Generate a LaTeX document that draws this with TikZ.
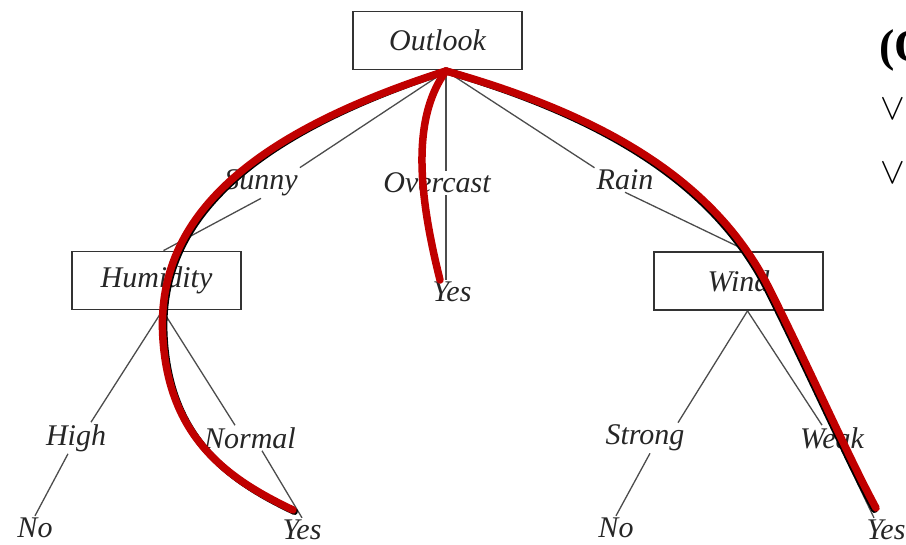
\documentclass[tikz,border=0pt]{standalone}
\usepackage{fix-cm}
\usepackage{fontspec}
\setmainfont{Liberation Serif}
\definecolor{pathred}{RGB}{192,0,0}
\newcommand{\labfont}{\fontsize{30}{34}\selectfont\itshape}
\begin{document}
\begin{tikzpicture}[x=1pt,y=-1pt,
  box/.style={draw=black!80,line width=1.8pt,minimum width=169pt,minimum height=58pt,inner sep=0pt,font=\labfont,text=black!85},
  lab/.style={font=\labfont,inner sep=2pt,text=black!85},
  edge/.style={draw=black!70,line width=1.3pt},
  redpath/.style={draw=pathred,line width=7.5pt,line cap=round},
  shade/.style={draw=black,line width=7pt,line cap=round},
  orsym/.style={anchor=west,inner sep=0pt,font=\fontsize{37}{40}\selectfont}]
\useasboundingbox (0,0) rectangle (906,545);
\node[box] (outlook) at (437.5,40.5) {Outlook};
\coordinate (ob) at (446,71);
\node[lab] (sunny) at (261,183) {Sunny};
\node[lab] (overcast) at (437,183) {Overcast};
\node[lab] (rain) at (625,180) {Rain};
\node[box] (humidity) at (156.5,280.5) {Humidity};
\node[lab] (yes0) at (452,292) {Yes};
\node[box] (wind) at (738.5,281) {Wind};
\node[lab] (high) at (76,438) {High};
\node[lab] (normal) at (250,438) {Normal};
\node[lab] (strong) at (645,438) {Strong};
\node[lab] (weak) at (832,438) {Weak};
\node[lab] (no1) at (35,528) {No};
\node[lab] (yes1) at (302,530) {Yes};
\node[lab] (no2) at (616,528) {No};
\node[lab] (yes2) at (886,530) {Yes};
% tree edges
\draw[edge] (ob) -- (sunny.north east);
\draw[edge] (sunny.south) -- ([xshift=7pt]humidity.north);
\draw[edge] (ob) -- (ob |- overcast.north);
\draw[edge] (ob |- overcast.south) -- (ob |- yes0.north);
\draw[edge] (ob) -- (rain.north west);
\draw[edge] (rain.south) -- ([xshift=9pt]wind.north);
\draw[edge] ([xshift=6pt]humidity.south) -- ([xshift=15pt]high.north);
\draw[edge] ([xshift=-8pt]high.south) -- (no1.north);
\draw[edge] ([xshift=6pt]humidity.south) -- ([xshift=-15pt]normal.north);
\draw[edge] ([xshift=12pt]normal.south) -- (yes1.north);
\draw[edge] ([xshift=9pt]wind.south) -- ([xshift=33pt]strong.north);
\draw[edge] ([xshift=5pt]strong.south) -- (no2.north);
\draw[edge] ([xshift=9pt]wind.south) -- ([xshift=-10pt]weak.north);
\draw[edge] ([xshift=10pt]weak.south) -- ([xshift=-12pt]yes2.north);
% highlighted paths
\begin{scope}[shift={(1.5,1.5)}]
\draw[shade] (ob) .. controls (230,140) and (155,230) .. (163,340) .. controls (170,440) and (230,480) .. (293,510);
\end{scope}
\begin{scope}[shift={(-1.5,1.5)}]
\draw[shade] (ob) .. controls (620,120) and (720,190) .. (770,290) .. controls (810,370) and (850,460) .. (876,508);
\end{scope}
\draw[redpath] (ob) .. controls (230,140) and (155,230) .. (163,340) .. controls (170,440) and (230,480) .. (293,510);
\draw[redpath] (ob) .. controls (410,120) and (420,200) .. (440,280);
\draw[redpath] (ob) .. controls (620,120) and (720,190) .. (770,290) .. controls (810,370) and (850,460) .. (876,508);
% right-side text
\node[anchor=base west,font=\fontsize{46}{50}\selectfont\bfseries,inner sep=0pt] (rt) at (879,62) {(O};
\node[orsym] (v1) at (880,109) {$\vee$};
\node[orsym] (v2) at (880,173) {$\vee$};
\end{tikzpicture}
\end{document}
